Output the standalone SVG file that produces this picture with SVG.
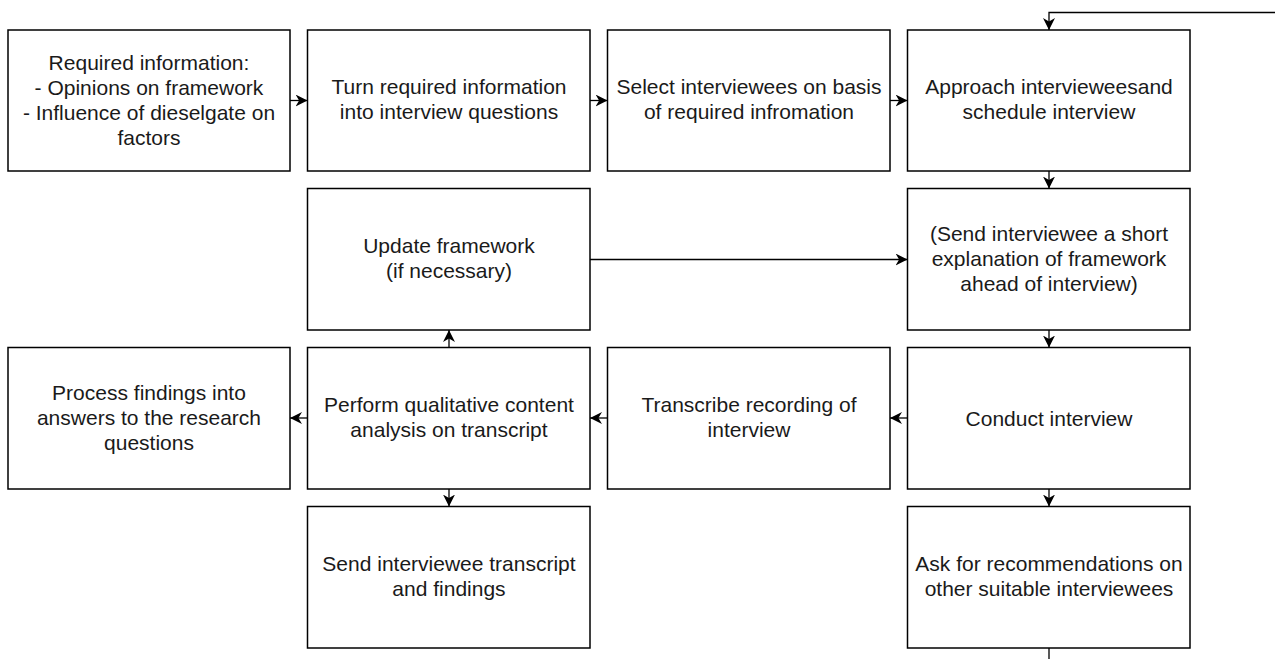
<svg xmlns="http://www.w3.org/2000/svg" width="1275" height="659" viewBox="0 0 1275 659">
<style>
.box{fill:#fff;stroke:#000;stroke-width:1.5}
.t{font-family:"Liberation Sans",Arial,sans-serif;font-size:21px;fill:#1a1a1a;text-anchor:middle}
.c{fill:none;stroke:#000;stroke-width:1.3}
</style>
<defs>
<marker id="ah" markerUnits="userSpaceOnUse" markerWidth="12" markerHeight="12" viewBox="0 0 10 10" refX="10" refY="5" orient="auto">
<path d="M0,0 L10,5 L0,10 L3,5 z" fill="#000"/>
</marker>
</defs>
<rect width="1275" height="659" fill="#fff"/>
<g id="connectors">
<path class="c" marker-end="url(#ah)" d="M290,100.5 H307.5"/>
<path class="c" marker-end="url(#ah)" d="M590,100.5 H607.5"/>
<path class="c" marker-end="url(#ah)" d="M890,100.5 H907.5"/>
<path class="c" marker-end="url(#ah)" d="M1049,171 V188.5"/>
<path class="c" marker-end="url(#ah)" d="M1049,330 V347.5"/>
<path class="c" marker-end="url(#ah)" d="M1049,489 V506.5"/>
<path class="c" marker-end="url(#ah)" d="M907.5,418 H890"/>
<path class="c" marker-end="url(#ah)" d="M607.5,418 H590"/>
<path class="c" marker-end="url(#ah)" d="M307.5,418 H290"/>
<path class="c" marker-end="url(#ah)" d="M449,347.5 V330"/>
<path class="c" marker-end="url(#ah)" d="M449,489 V506.5"/>
<path class="c" marker-end="url(#ah)" d="M590,259.5 H907.5"/>
<path class="c" marker-end="url(#ah)" d="M1049,648 V690 H1300 V12.5 H1049 V30"/>
</g>
<g id="n1"><rect class="box" x="8" y="30" width="282" height="141"/>
<text class="t" x="149" y="70">Required information:</text>
<text class="t" x="149" y="95">- Opinions on framework</text>
<text class="t" x="149" y="120">- Influence of dieselgate on</text>
<text class="t" x="149" y="145">factors</text></g>
<g id="n2"><rect class="box" x="307.5" y="30" width="282.5" height="141"/>
<text class="t" x="449" y="94">Turn required information</text>
<text class="t" x="449" y="119">into interview questions</text></g>
<g id="n3"><rect class="box" x="607.5" y="30" width="282.5" height="141"/>
<text class="t" x="749" y="94">Select interviewees on basis</text>
<text class="t" x="749" y="119">of required infromation</text></g>
<g id="n4"><rect class="box" x="907.5" y="30" width="282.5" height="141"/>
<text class="t" x="1049" y="94">Approach intervieweesand</text>
<text class="t" x="1049" y="119">schedule interview</text></g>
<g id="n5"><rect class="box" x="307.5" y="188.5" width="282.5" height="141.5"/>
<text class="t" x="449" y="253">Update framework</text>
<text class="t" x="449" y="278">(if necessary)</text></g>
<g id="n6"><rect class="box" x="907.5" y="188.5" width="282.5" height="141.5"/>
<text class="t" x="1049" y="241">(Send interviewee a short</text>
<text class="t" x="1049" y="266">explanation of framework</text>
<text class="t" x="1049" y="291">ahead of interview)</text></g>
<g id="n7"><rect class="box" x="8" y="347.5" width="282" height="141.5"/>
<text class="t" x="149" y="400">Process findings into</text>
<text class="t" x="149" y="425">answers to the research</text>
<text class="t" x="149" y="450">questions</text></g>
<g id="n8"><rect class="box" x="307.5" y="347.5" width="282.5" height="141.5"/>
<text class="t" x="449" y="412">Perform qualitative content</text>
<text class="t" x="449" y="437">analysis on transcript</text></g>
<g id="n9"><rect class="box" x="607.5" y="347.5" width="282.5" height="141.5"/>
<text class="t" x="749" y="412">Transcribe recording of</text>
<text class="t" x="749" y="437">interview</text></g>
<g id="n10"><rect class="box" x="907.5" y="347.5" width="282.5" height="141.5"/>
<text class="t" x="1049" y="426">Conduct interview</text></g>
<g id="n11"><rect class="box" x="307.5" y="506.5" width="282.5" height="141.5"/>
<text class="t" x="449" y="571">Send interviewee transcript</text>
<text class="t" x="449" y="596">and findings</text></g>
<g id="n12"><rect class="box" x="907.5" y="506.5" width="282.5" height="141.5"/>
<text class="t" x="1049" y="571">Ask for recommendations on</text>
<text class="t" x="1049" y="596">other suitable interviewees</text></g>
</svg>
